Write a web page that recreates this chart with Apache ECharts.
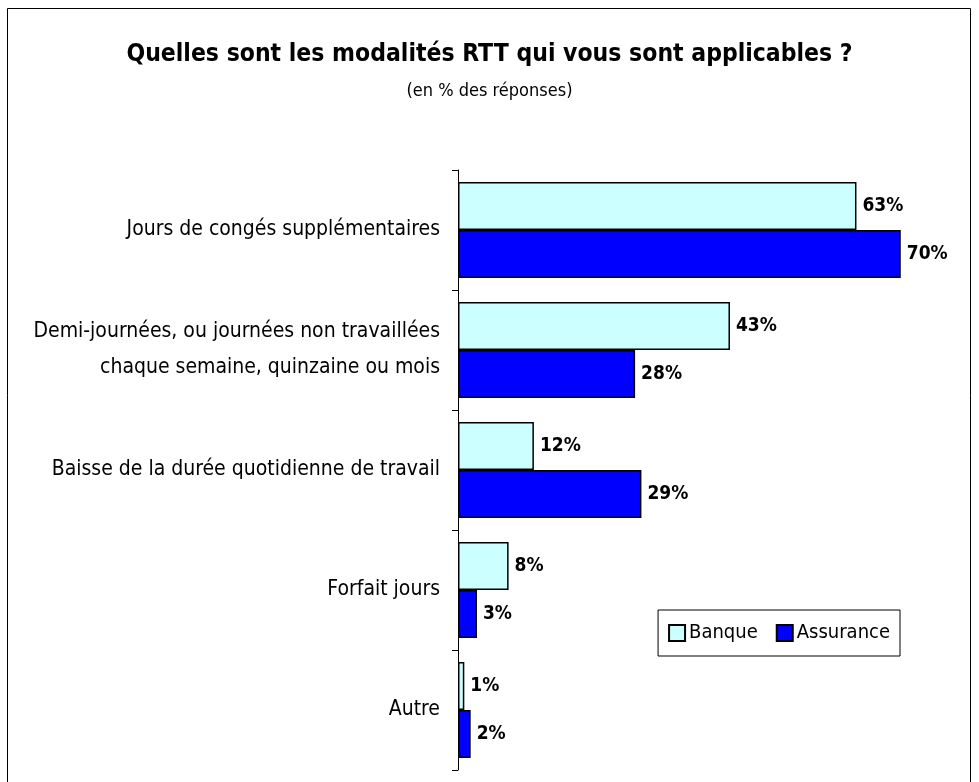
<!DOCTYPE html>
<html><head><meta charset="utf-8">
<script src="https://cdn.jsdelivr.net/npm/echarts@6/dist/echarts.min.js"></script>
<style>html,body{margin:0;padding:0;background:#fff}#c{width:979px;height:782px}</style>
</head><body><div id="c"></div>
<script>
const categories = ["Jours de congés supplémentaires","Demi-journées, ou journées non travaillées\nchaque semaine, quinzaine ou mois","Baisse de la durée quotidienne de travail","Forfait jours","Autre"];
const banque = [63, 43, 12, 8, 1];
const assurance = [70, 28, 29, 3, 2];
const FONT = '"Liberation Sans Narrow","Arial Narrow","DejaVu Sans Condensed",sans-serif';
const chart = echarts.init(document.getElementById('c'));
chart.setOption({
  animation:false,
  backgroundColor:'#fff',
  textStyle:{fontFamily:FONT},
  title:[
    {text:'Quelles sont les modalités RTT qui vous sont applicables ?',left:'center',top:37,textStyle:{fontFamily:FONT,fontSize:24.5,fontWeight:'bold',color:'#000'}},
    {text:'(en % des réponses)',left:'center',top:77,textStyle:{fontFamily:FONT,fontSize:18,fontWeight:'normal',color:'#000'}}
  ],
  graphic:[{type:'rect',shape:{x:7.5,y:8.5,width:963,height:790},style:{fill:'none',stroke:'#000',lineWidth:1},silent:true}],
  legend:{
    right:79, top:610, orient:'horizontal',
    padding:[13,10,13,10], itemGap:18,
    borderColor:'#000', borderWidth:1, backgroundColor:'#fff',
    itemWidth:16, itemHeight:16, icon:'rect',
    textStyle:{fontFamily:FONT,fontSize:20,color:'#000',padding:[0,0,0,-1]},
    data:['Banque','Assurance']
  },
  grid:{left:458,right:15,top:170,bottom:12,containLabel:false},
  xAxis:{type:'value',min:0,max:80,show:false},
  yAxis:{type:'category',data:categories,inverse:true,
    axisLine:{lineStyle:{color:'#000',width:1}},
    axisTick:{show:true,length:6,lineStyle:{color:'#000'}},
    axisLabel:{fontFamily:FONT,fontSize:21,color:'#000',margin:18,lineHeight:36,align:'right'}
  },
  series:[
    {name:'Banque',type:'bar',data:banque,barGap:'0%',barCategoryGap:'20%',
      itemStyle:{color:'#CCFFFF',borderColor:'#000',borderWidth:1.5},
      label:{show:true,position:'right',distance:6,formatter:'{c}%',fontFamily:FONT,fontSize:19,fontWeight:'bold',color:'#000'}},
    {name:'Assurance',type:'bar',data:assurance,
      itemStyle:{color:'#0000FF',borderColor:'#000',borderWidth:1.5},
      label:{show:true,position:'right',distance:6,formatter:'{c}%',fontFamily:FONT,fontSize:19,fontWeight:'bold',color:'#000'}}
  ]
});
</script></body></html>
